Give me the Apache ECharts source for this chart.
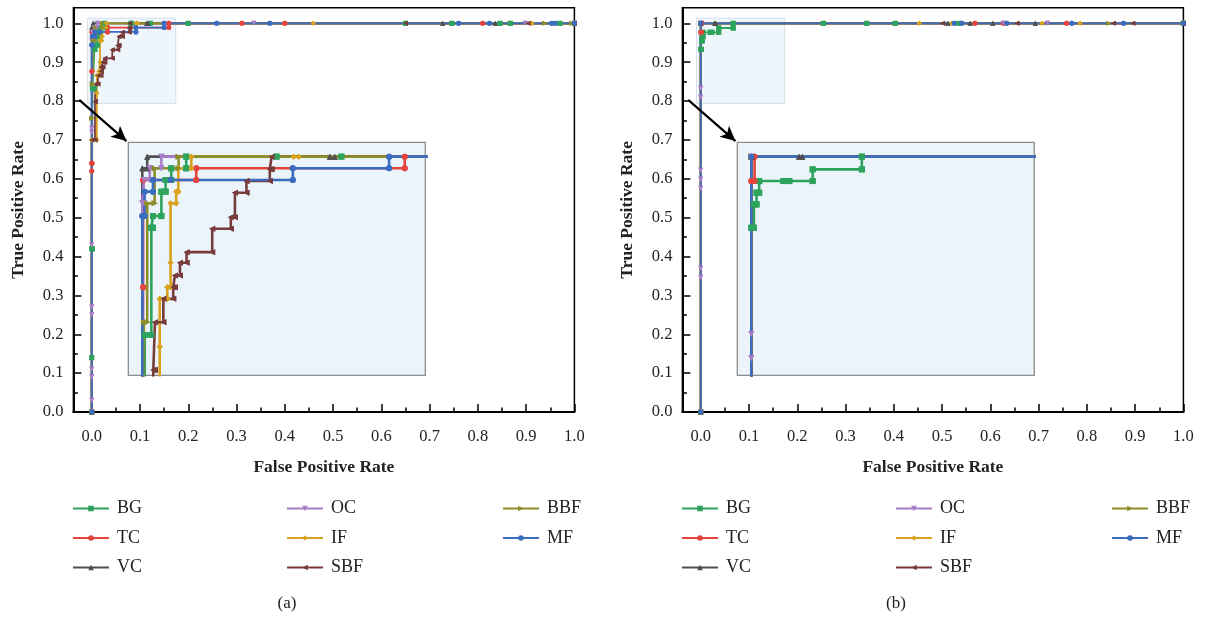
<!DOCTYPE html>
<html>
<head>
<meta charset="utf-8">
<script src="https://cdn.jsdelivr.net/npm/echarts@6/dist/echarts.min.js"></script>
<style>
  html, body { margin: 0; padding: 0; background: #fff; }
  #chart { width: 1205px; height: 620px; }
</style>
</head>
<body>
<div id="chart"></div>
<script>
// ---------- ROC curves, panel (a): [false positive rate, true positive rate] ----------
const rocA_BG = [[0,0],[0,0.14],[0,0.42],[0.0015,0.42],[0.0015,0.832],[0.0055,0.832],[0.0055,0.933],[0.0065,0.933],[0.0065,0.944],[0.0116,0.944],[0.0116,0.967],[0.0142,0.967],[0.0142,0.978],[0.0176,0.978],[0.0176,0.989],[0.0267,0.989],[0.0267,1],[0.0816,1],[0.121,1],[0.2,1],[0.65,1],[0.746,1],[0.846,1],[0.867,1],[0.97,1],[1,1]];
const rocA_TC = [[0,0],[0,0.62],[0,0.64],[0.0005,0.64],[0.0005,0.877],[0.0005,0.978],[0.0328,0.978],[0.0328,0.989],[0.1595,0.989],[0.1595,1],[0.311,1],[0.40,1],[0.81,1],[1,1]];
const rocA_VC = [[0,0],[0,0.989],[0.003,0.989],[0.003,1],[0.114,1],[0.117,1],[0.727,1],[0.836,1],[1,1]];
const rocA_OC = [[0,0],[0,0.03],[0,0.09],[0,0.11],[0,0.25],[0,0.27],[0,0.43],[0,0.72],[0,0.73],[0,0.956],[0.001,0.956],[0.001,0.978],[0.0045,0.978],[0.0045,0.989],[0.0116,0.989],[0.0116,1],[0.336,1],[0.898,1],[1,1]];
const rocA_IF = [[0,0],[0,0.70],[0.0106,0.70],[0.0106,0.821],[0.0106,0.866],[0.0152,0.866],[0.0152,0.877],[0.0172,0.877],[0.0172,0.9],[0.0172,0.956],[0.0206,0.956],[0.0206,0.967],[0.0219,0.967],[0.0219,0.989],[0.0298,0.989],[0.0298,1],[0.092,1],[0.095,1],[0.459,1],[0.912,1],[1,1]];
const rocA_SBF = [[0,0],[0,0.70],[0.0067,0.70],[0.0067,0.799],[0.0077,0.799],[0.0077,0.844],[0.0128,0.844],[0.0128,0.866],[0.0188,0.866],[0.0188,0.877],[0.0198,0.877],[0.0198,0.888],[0.0229,0.888],[0.0229,0.9],[0.0269,0.9],[0.0269,0.91],[0.0425,0.91],[0.0425,0.932],[0.0538,0.932],[0.0538,0.943],[0.0563,0.943],[0.0563,0.966],[0.0633,0.966],[0.0633,0.977],[0.0775,0.977],[0.0775,0.988],[0.0786,0.988],[0.0786,1],[0.65,1],[0.904,1],[1,1]];
const rocA_BBF = [[0,0],[0,0.756],[0.001,0.756],[0.001,0.844],[0.003,0.844],[0.003,0.956],[0.0075,0.956],[0.0075,0.989],[0.0221,0.989],[0.0221,1],[0.939,1],[0.995,1],[1,1]];
const rocA_MF = [[0,0],[0,0.944],[0.0014,0.944],[0.0014,0.967],[0.0065,0.967],[0.0065,0.978],[0.0172,0.978],[0.0915,0.978],[0.0915,0.989],[0.150,0.989],[0.150,1],[0.259,1],[0.369,1],[0.76,1],[0.824,1],[0.953,1],[0.96,1],[1,1]];

// ---------- ROC curves, panel (b) ----------
const rocB_BG = [[0,0],[0,0.933],[0.0016,0.933],[0.0016,0.955],[0.0032,0.955],[0.0032,0.966],[0.0048,0.966],[0.0048,0.977],[0.0195,0.977],[0.0231,0.977],[0.0373,0.977],[0.0373,0.988],[0.0672,0.988],[0.0672,1],[0.254,1],[0.344,1],[0.403,1],[0.535,1],[1,1]];
const rocB_TC = [[0,0],[0,0.977],[0.002,0.977],[0.002,1],[0.568,1],[0.627,1],[0.758,1],[1,1]];
const rocB_VC = [[0,0],[0,1],[0.029,1],[0.031,1],[0.512,1],[0.558,1],[0.605,1],[0.693,1],[1,1]];
const rocB_OC = [[0,0],[0,0.347],[0,0.37],[0,0.576],[0,0.599],[0,0.622],[0,0.81],[0,0.833],[0,1],[0.627,1],[0.718,1],[1,1]];
const rocB_IF = [[0,0],[0,1],[0.453,1],[0.52,1],[0.707,1],[0.786,1],[1,1]];
const rocB_SBF = [[0,0],[0,1],[0.501,1],[0.655,1],[0.855,1],[0.895,1],[1,1]];
const rocB_BBF = [[0,0],[0,1],[0.845,1],[1,1]];
const rocB_MF = [[0,0],[0,1],[0.525,1],[0.541,1],[0.634,1],[0.769,1],[0.876,1],[1,1]];

// ---------- categories and ticks ----------
const methods = ['BG', 'TC', 'VC', 'OC', 'IF', 'SBF', 'BBF', 'MF'];
const legendColumns = [['BG', 'TC', 'VC'], ['OC', 'IF', 'SBF'], ['BBF', 'MF']];
const majorTicks = [0, 0.1, 0.2, 0.3, 0.4, 0.5, 0.6, 0.7, 0.8, 0.9, 1.0];
const minorTicks = [0.05, 0.15, 0.25, 0.35, 0.45, 0.55, 0.65, 0.75, 0.85, 0.95];
const panelLabels = ['(a)', '(b)'];
const xTitle = 'False Positive Rate';
const yTitle = 'True Positive Rate';

// axis extents of the full plots and of the magnified corner
const fullX = [-0.038, 1.0];
const fullY = [0, 1.04];
const zoomX = [-0.0085, 0.172];
const zoomY = [0.794, 1.0135];

const panels = [
  { curves: { BG: rocA_BG, TC: rocA_TC, VC: rocA_VC, OC: rocA_OC, IF: rocA_IF, SBF: rocA_SBF, BBF: rocA_BBF, MF: rocA_MF } },
  { curves: { BG: rocB_BG, TC: rocB_TC, VC: rocB_VC, OC: rocB_OC, IF: rocB_IF, SBF: rocB_SBF, BBF: rocB_BBF, MF: rocB_MF } }
];

// ---------- styles ----------
const SERIF = '"Liberation Serif", "DejaVu Serif", serif';
const STYLE = {
  BG:  { color: '#2ea35c', symbol: 'rect', rotate: 0 },
  TC:  { color: '#e5433d', symbol: 'circle', rotate: 0 },
  VC:  { color: '#4f4f4f', symbol: 'triangle', rotate: 0 },
  OC:  { color: '#a77dc8', symbol: 'triangle', rotate: 180 },
  IF:  { color: '#d9a21e', symbol: 'diamond', rotate: 0 },
  SBF: { color: '#773b3c', symbol: 'triangle', rotate: 90 },
  BBF: { color: '#8c8e2a', symbol: 'triangle', rotate: -90 },
  MF:  { color: '#3b6cc0', symbol: 'circle', rotate: 0 }
};
const PANEL_SHIFT = 609;       // horizontal offset of panel (b)
const MAIN_BOX = { left: 73.4, top: 7.8, width: 501, height: 404.2 };
const ZOOM_BOX = { left: 128.3, top: 142.3, width: 297, height: 233 };

const grids = [], xAxes = [], yAxes = [], series = [], legends = [], graphics = [];

panels.forEach((panel, p) => {
  const dx = p * PANEL_SHIFT;
  const gMain = grids.length;
  grids.push({ left: MAIN_BOX.left + dx, top: MAIN_BOX.top, width: MAIN_BOX.width, height: MAIN_BOX.height,
    show: true, borderColor: '#000', borderWidth: 1.5, backgroundColor: 'transparent', outerBoundsMode: 'none' });
  const gZoom = grids.length;
  grids.push({ left: ZOOM_BOX.left + dx, top: ZOOM_BOX.top, width: ZOOM_BOX.width, height: ZOOM_BOX.height,
    show: true, borderColor: '#8d8d8d', borderWidth: 1.3, backgroundColor: '#eaf4fa', outerBoundsMode: 'none' });

  const xMain = xAxes.length;
  xAxes.push({
    type: 'value', gridIndex: gMain, min: fullX[0], max: fullX[1], position: 'bottom',
    axisLine: { show: true, onZero: false, lineStyle: { color: '#000', width: 2 } },
    axisTick: { show: true, inside: true, length: 8, customValues: majorTicks, lineStyle: { color: '#000', width: 1.5 } },
    axisLabel: { show: true, customValues: majorTicks, formatter: v => v.toFixed(1), margin: 16,
      fontFamily: SERIF, fontSize: 16.5, color: '#222' },
    splitLine: { show: false },
    name: xTitle, nameLocation: 'middle', nameGap: 46,
    nameTextStyle: { fontFamily: SERIF, fontWeight: 'bold', fontSize: 17.5, color: '#222' }
  });
  xAxes.push({
    type: 'value', gridIndex: gMain, min: fullX[0], max: fullX[1], position: 'bottom',
    axisLine: { show: false },
    axisTick: { show: true, inside: true, length: 4.5, customValues: minorTicks, lineStyle: { color: '#000', width: 1.5 } },
    axisLabel: { show: false }, splitLine: { show: false }
  });
  const xZoom = xAxes.length;
  xAxes.push({ type: 'value', gridIndex: gZoom, min: zoomX[0], max: zoomX[1], show: false, splitLine: { show: false } });

  const yMain = yAxes.length;
  yAxes.push({
    type: 'value', gridIndex: gMain, min: fullY[0], max: fullY[1], position: 'left',
    axisLine: { show: true, onZero: false, lineStyle: { color: '#000', width: 2 } },
    axisTick: { show: true, inside: true, length: 8, customValues: majorTicks, lineStyle: { color: '#000', width: 1.5 } },
    axisLabel: { show: true, customValues: majorTicks, formatter: v => v.toFixed(1), margin: 10,
      fontFamily: SERIF, fontSize: 16.5, color: '#222' },
    splitLine: { show: false },
    name: yTitle, nameLocation: 'middle', nameGap: 46,
    nameTextStyle: { fontFamily: SERIF, fontWeight: 'bold', fontSize: 17.5, color: '#222' }
  });
  yAxes.push({
    type: 'value', gridIndex: gMain, min: fullY[0], max: fullY[1], position: 'left',
    axisLine: { show: false, onZero: false },
    axisTick: { show: true, inside: true, length: 4.5, customValues: minorTicks, lineStyle: { color: '#000', width: 1.5 } },
    axisLabel: { show: false }, splitLine: { show: false }
  });
  const yZoom = yAxes.length;
  yAxes.push({ type: 'value', gridIndex: gZoom, min: zoomY[0], max: zoomY[1], show: false, splitLine: { show: false } });

  // highlighted corner and the arrow pointing to its magnified view
  series.push({
    type: 'line', data: [], xAxisIndex: xMain, yAxisIndex: yMain, z: 4, silent: true, animation: false,
    markArea: {
      silent: true, z: 1,
      itemStyle: { color: 'rgba(226,238,248,0.55)', borderColor: '#d3e0ea', borderWidth: 1 },
      data: [[{ coord: [-0.009, zoomY[0]] }, { coord: [0.174, zoomY[1]] }]]
    },
    markLine: {
      silent: true, symbol: ['none', 'arrow'], symbolSize: [11, 15], animation: false,
      label: { show: false },
      lineStyle: { color: '#000', width: 2.2, type: 'solid', opacity: 1 },
      itemStyle: { color: '#000' },
      data: [[{ coord: [-0.026, 0.803] }, { coord: [0.072, 0.697] }]]
    }
  });

  const layers = [
    { xi: xMain, yi: yMain, width: 1.8, size: 5 },
    { xi: xZoom, yi: yZoom, width: 2.6, size: 6 }
  ];
  // lines first so that every marker is drawn above all lines
  layers.forEach(L => {
    methods.forEach(name => {
      const st = STYLE[name];
      series.push({
        type: 'line', name, data: panel.curves[name], xAxisIndex: L.xi, yAxisIndex: L.yi, z: 2,
        symbol: st.symbol, symbolRotate: st.rotate, symbolSize: L.size,
        showSymbol: true, showAllSymbol: true, clip: true, silent: true, animation: false,
        lineStyle: { color: st.color, width: L.width }, itemStyle: { color: st.color },
        emphasis: { disabled: true }
      });
    });
  });
  layers.forEach(L => {
    methods.forEach(name => {
      const st = STYLE[name];
      series.push({
        type: 'scatter', name, data: panel.curves[name], xAxisIndex: L.xi, yAxisIndex: L.yi, z: 3,
        symbol: st.symbol, symbolRotate: st.rotate, symbolSize: L.size,
        clip: true, silent: true, animation: false, itemStyle: { color: st.color, opacity: 1 },
        emphasis: { disabled: true }
      });
    });
  });

  const colLeft = [72, 286, 502];
  legendColumns.forEach((col, c) => {
    legends.push({
      data: col, orient: 'vertical', left: colLeft[c] + dx, top: 498, padding: 0,
      itemWidth: 36, itemHeight: 7, itemGap: 8.5, selectedMode: false,
      textStyle: { fontFamily: SERIF, fontSize: 18, color: '#222', lineHeight: 21, padding: [0, 0, 0, 3] }
    });
  });

  graphics.push({
    type: 'text', x: 287 + dx, y: 604,
    style: { text: panelLabels[p], font: '17px "Liberation Serif", serif', fill: '#222',
      align: 'center', verticalAlign: 'middle', textAlign: 'center', textVerticalAlign: 'middle' }
  });
});

const chart = echarts.init(document.getElementById('chart'), null, { renderer: 'canvas' });
chart.setOption({
  backgroundColor: '#fff',
  animation: false,
  grid: grids,
  xAxis: xAxes,
  yAxis: yAxes,
  legend: legends,
  series: series,
  graphic: graphics
});
</script>
</body>
</html>
